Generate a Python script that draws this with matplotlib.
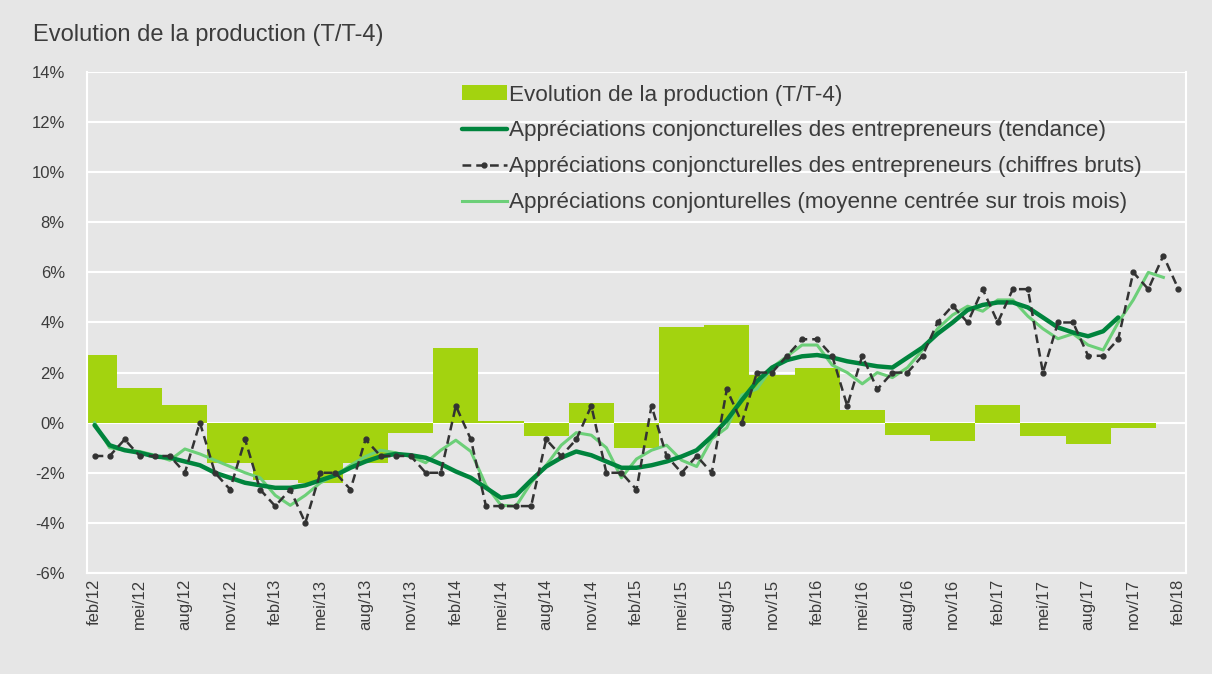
import matplotlib.pyplot as plt
import numpy as np

plt.rcParams['font.family'] = ['Liberation Sans', 'DejaVu Sans']

# quarterly production growth (T/T-4), Q1 2012 .. Q4 2017
production_q = [2.7, 1.4, 0.7, -1.6, -2.3, -2.4, -1.6, -0.4,
                3.0, 0.05, -0.55, 0.8, -1.0, 3.8, 3.9, 1.9,
                2.2, 0.5, -0.5, -0.75, 0.7, -0.55, -0.85, -0.2]

# monthly, feb/12 .. feb/18
raw = [-1.33, -1.33, -0.67, -1.33, -1.33, -1.33, -2.0, 0.0, -2.0, -2.67,
       -0.67, -2.67, -3.33, -2.67, -4.0, -2.0, -2.0, -2.67, -0.67, -1.33,
       -1.33, -1.33, -2.0, -2.0, 0.67, -0.67, -3.33, -3.33, -3.33, -3.33,
       -0.67, -1.33, -0.67, 0.67, -2.0, -2.0, -2.67, 0.67, -1.33, -2.0,
       -1.33, -2.0, 1.33, 0.0, 2.0, 2.0, 2.67, 3.33, 3.33, 2.67,
       0.67, 2.67, 1.33, 2.0, 2.0, 2.67, 4.0, 4.67, 4.0, 5.33,
       4.0, 5.33, 5.33, 2.0, 4.0, 4.0, 2.67, 2.67, 3.33, 6.0,
       5.33, 6.67, 5.33]

trend = [-0.1, -0.9, -1.1, -1.2, -1.35, -1.4, -1.55, -1.7, -2.0, -2.2,
         -2.4, -2.5, -2.6, -2.6, -2.5, -2.3, -2.1, -1.8, -1.55, -1.35,
         -1.25, -1.3, -1.4, -1.65, -1.95, -2.2, -2.6, -3.0, -2.9, -2.3,
         -1.75, -1.4, -1.15, -1.3, -1.55, -1.8, -1.8, -1.7, -1.55, -1.35,
         -1.1, -0.55, 0.1, 0.9, 1.65, 2.2, 2.5, 2.65, 2.7, 2.6,
         2.45, 2.35, 2.25, 2.2, 2.6, 3.0, 3.55, 4.0, 4.5, 4.7,
         4.8, 4.8, 4.6, 4.2, 3.8, 3.6, 3.45, 3.65, 4.2]

avg3 = [0.0, -1.0, -1.1, -1.15, -1.3, -1.5, -1.05, -1.25, -1.5, -1.75,
        -2.0, -2.2, -2.9, -3.3, -2.9, -2.4, -2.1, -1.7, -1.35, -1.1,
        -1.2, -1.35, -1.6, -1.1, -0.7, -1.15, -2.5, -3.3, -3.33, -2.4,
        -1.7, -0.9, -0.4, -0.5, -1.0, -2.2, -1.45, -1.1, -0.9, -1.5,
        -1.75, -0.65, -0.2, 1.1, 1.35, 2.2, 2.65, 3.1, 3.1, 2.3,
        2.0, 1.55, 2.0, 1.8, 2.2, 2.9, 3.75, 4.3, 4.65, 4.45,
        4.9, 4.9, 4.25, 3.75, 3.35, 3.55, 3.1, 2.9, 4.0, 4.9,
        6.0, 5.8]

tick_labels = ['feb/12', 'mei/12', 'aug/12', 'nov/12', 'feb/13', 'mei/13', 'aug/13', 'nov/13',
               'feb/14', 'mei/14', 'aug/14', 'nov/14', 'feb/15', 'mei/15', 'aug/15', 'nov/15',
               'feb/16', 'mei/16', 'aug/16', 'nov/16', 'feb/17', 'mei/17', 'aug/17', 'nov/17',
               'feb/18']

bg = '#E6E6E6'
txt = '#3C3C3C'

fig = plt.figure(figsize=(12.12, 6.74), dpi=100, facecolor=bg)
ax = fig.add_axes([0.0718, 0.1499, 0.9067, 0.7433], facecolor=bg)

q_pos = np.arange(len(production_q)) * 3
ax.bar(q_pos, production_q, width=3, color='#A3D30F', zorder=2,
       label='Evolution de la production (T/T-4)')
ax.plot(np.arange(len(trend)), trend, color='#00843D', lw=3.2, zorder=4,
        solid_capstyle='round',
        label='Appréciations conjoncturelles des entrepreneurs (tendance)')
ax.plot(np.arange(len(raw)), raw, color='#333333', lw=1.8, ls=(0, (3.5, 2)),
        marker='o', ms=3.5, zorder=5,
        label='Appréciations conjoncturelles des entrepreneurs (chiffres bruts)')
ax.plot(np.arange(len(avg3)), avg3, color='#6CCF78', lw=2.2, zorder=3,
        label='Appréciations conjonturelles (moyenne centrée sur trois mois)')

ax.set_xlim(-0.5, 72.5)
ax.set_ylim(-6, 14)
ax.set_yticks(np.arange(-6, 15, 2))
ax.set_yticklabels([f'{v}%' for v in range(-6, 15, 2)])
ax.set_xticks(np.arange(0, 73, 3))
ax.set_xticklabels(tick_labels, rotation=90)
ax.tick_params(axis='y', length=0, pad=16, labelsize=12, labelcolor=txt)
ax.tick_params(axis='x', length=0, pad=4, labelsize=12, labelcolor=txt)

ax.grid(axis='y', color='white', lw=1.5, zorder=1)
ax.set_axisbelow(True)
for side in ['left', 'right', 'bottom']:
    ax.spines[side].set_color('white')
    ax.spines[side].set_linewidth(1.5)
ax.spines['top'].set_visible(False)

h, l = ax.get_legend_handles_labels()
order = [3, 0, 1, 2]
ax.legend([h[i] for i in order], [l[i] for i in order], loc='upper left',
          bbox_to_anchor=(0.341, 0.975), frameon=False, fontsize=16.2,
          handlelength=2.0, handleheight=0.6, handletextpad=0.1,
          labelspacing=0.66, borderaxespad=0, borderpad=0, labelcolor=txt)

fig.text(0.027, 0.948, 'Evolution de la production (T/T-4)', fontsize=17,
         color=txt, va='center', ha='left')

fig.savefig('out.png', dpi=100, facecolor=bg)
